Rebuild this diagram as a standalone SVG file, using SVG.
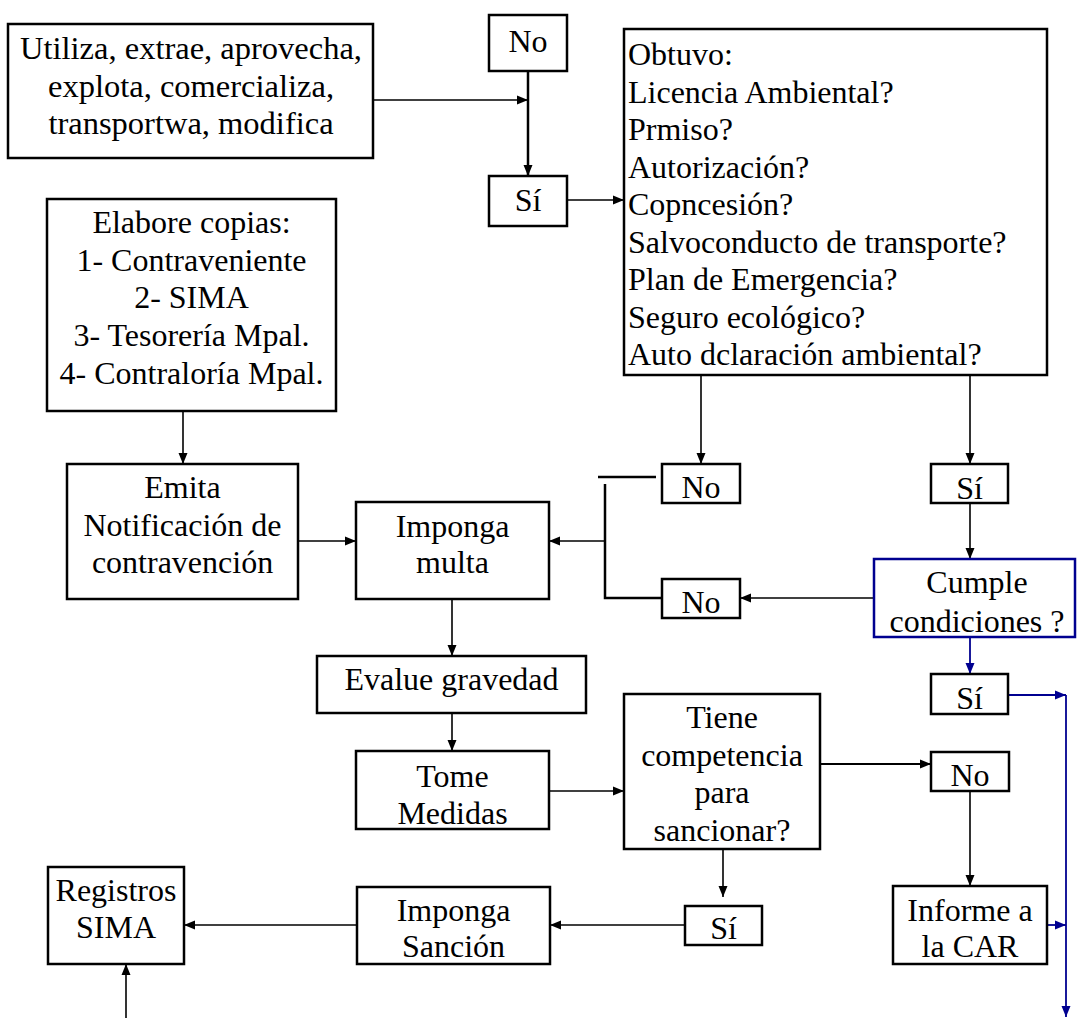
<svg xmlns="http://www.w3.org/2000/svg" width="1077" height="1018" viewBox="0 0 1077 1018">
<style>
.b{fill:#fff;stroke:#000;stroke-width:2.5}
.bb{fill:#fff;stroke:#000090;stroke-width:2.5}
text{font-family:"Liberation Serif","Times New Roman",serif;font-size:32px;fill:#000}
.c{text-anchor:middle}
.k{fill:none;stroke:#000;stroke-width:1.6}
.kb{fill:none;stroke:#000090;stroke-width:1.8}
</style>
<defs>
<marker id="a" markerUnits="userSpaceOnUse" markerWidth="12" markerHeight="10" refX="11" refY="5" orient="auto-start-reverse"><path d="M0,0.5 L11,5 L0,9.5 Z" fill="#000"/></marker>
<marker id="ab" markerUnits="userSpaceOnUse" markerWidth="12" markerHeight="10" refX="11" refY="5" orient="auto-start-reverse"><path d="M0,0.5 L11,5 L0,9.5 Z" fill="#000090"/></marker>
</defs>
<rect width="1077" height="1018" fill="#fff"/>
<g id="connectors">
<line class="k" x1="373" y1="100" x2="528" y2="100" marker-end="url(#a)"/>
<line class="k" style="stroke-width:2.5" x1="528" y1="47" x2="528" y2="176" marker-start="url(#a)" marker-end="url(#a)"/>
<line class="k" x1="567" y1="200" x2="624" y2="200" marker-end="url(#a)"/>
<line class="k" x1="701" y1="362" x2="701" y2="464" marker-end="url(#a)"/>
<line class="k" x1="970" y1="362" x2="970" y2="464" marker-end="url(#a)"/>
<line class="k" x1="970" y1="503" x2="970" y2="559" marker-end="url(#a)"/>
<line class="k" style="stroke-width:2.5" x1="598" y1="477" x2="656" y2="477"/>
<path class="k" style="stroke-width:2.5" d="M662,598 H605 V484"/>
<line class="k" x1="605" y1="541" x2="549" y2="541" marker-end="url(#a)"/>
<line class="k" x1="874" y1="598" x2="740" y2="598" marker-end="url(#a)"/>
<line class="k" x1="183" y1="411" x2="183" y2="464" marker-end="url(#a)"/>
<line class="k" x1="298" y1="541" x2="356" y2="541" marker-end="url(#a)"/>
<line class="k" x1="452" y1="599" x2="452" y2="656" marker-end="url(#a)"/>
<line class="k" x1="452" y1="713" x2="452" y2="751" marker-end="url(#a)"/>
<line class="k" x1="549" y1="791" x2="624" y2="791" marker-end="url(#a)"/>
<line class="k" style="stroke-width:2.2" x1="820" y1="764" x2="931" y2="764" marker-end="url(#a)"/>
<line class="k" x1="723" y1="838" x2="723" y2="897" marker-end="url(#a)"/>
<line class="k" x1="970" y1="791" x2="970" y2="886" marker-end="url(#a)"/>
<line class="k" x1="685" y1="925" x2="550" y2="925" marker-end="url(#a)"/>
<line class="k" x1="357" y1="925" x2="184" y2="925" marker-end="url(#a)"/>
<line class="k" x1="126" y1="1018" x2="126" y2="964" marker-end="url(#a)"/>
<line class="kb" x1="970" y1="637" x2="970" y2="674" marker-end="url(#ab)"/>
<line class="kb" x1="1008" y1="695" x2="1066" y2="695" marker-end="url(#ab)"/>
<line class="kb" x1="1066" y1="695" x2="1066" y2="1017" marker-end="url(#ab)"/>
<line class="kb" x1="1047" y1="925" x2="1066" y2="925" marker-end="url(#ab)"/>
</g>
<g id="n-utiliza"><rect class="b" x="8" y="24" width="365" height="134"/>
<text class="c" x="191" y="59" style="font-size:32.5px">Utiliza, extrae, aprovecha,</text>
<text class="c" x="191" y="96.5" style="font-size:32.5px">explota, comercializa,</text>
<text class="c" x="191" y="134" style="font-size:32.5px">transportwa, modifica</text></g>
<g id="n-no1"><rect class="b" x="489" y="15" width="78" height="56"/><text class="c" x="528" y="52">No</text></g>
<g id="n-si1"><rect class="b" x="489" y="176" width="78" height="50"/><text class="c" x="528" y="211">Sí</text></g>
<g id="n-obtuvo"><rect class="b" x="624" y="29" width="423" height="346"/>
<text x="628" y="65">Obtuvo:</text>
<text x="628" y="102.5">Licencia Ambiental?</text>
<text x="628" y="140">Prmiso?</text>
<text x="628" y="177.5">Autorización?</text>
<text x="628" y="215">Copncesión?</text>
<text x="628" y="252.5">Salvoconducto de transporte?</text>
<text x="628" y="290">Plan de Emergencia?</text>
<text x="628" y="327.5">Seguro ecológico?</text>
<text x="628" y="365">Auto dclaración ambiental?</text></g>
<g id="n-elabore"><rect class="b" x="47" y="199" width="289" height="212"/>
<text class="c" x="191.5" y="233">Elabore copias:</text>
<text class="c" x="191.5" y="271">1- Contraveniente</text>
<text class="c" x="191.5" y="308">2- SIMA</text>
<text class="c" x="191.5" y="346">3- Tesorería Mpal.</text>
<text class="c" x="191.5" y="384">4- Contraloría Mpal.</text></g>
<g id="n-emita"><rect class="b" x="67" y="464" width="231" height="135"/>
<text class="c" x="182.5" y="498">Emita</text>
<text class="c" x="182.5" y="536">Notificación de</text>
<text class="c" x="182.5" y="573">contravención</text></g>
<g id="n-multa"><rect class="b" x="356" y="502" width="193" height="97"/>
<text class="c" x="452.5" y="537">Imponga</text>
<text class="c" x="452.5" y="573">multa</text></g>
<g id="n-no2"><rect class="b" x="662" y="464" width="78" height="39"/><text class="c" x="701" y="498">No</text></g>
<g id="n-si2"><rect class="b" x="931" y="464" width="77" height="39"/><text class="c" x="969.5" y="499">Sí</text></g>
<g id="n-cumple"><rect class="bb" x="874" y="559" width="201" height="78"/>
<text class="c" x="977" y="593">Cumple</text>
<text class="c" x="977" y="632">condiciones ?</text></g>
<g id="n-no3"><rect class="b" x="662" y="579" width="78" height="39"/><text class="c" x="701" y="613">No</text></g>
<g id="n-si3"><rect class="b" x="931" y="674" width="77" height="40"/><text class="c" x="969.5" y="709">Sí</text></g>
<g id="n-evalue"><rect class="b" x="317" y="656" width="269" height="57"/><text class="c" x="451.5" y="690">Evalue gravedad</text></g>
<g id="n-tome"><rect class="b" x="356" y="751" width="193" height="78"/>
<text class="c" x="452.5" y="787">Tome</text>
<text class="c" x="452.5" y="824">Medidas</text></g>
<g id="n-tiene"><rect class="b" x="624" y="694" width="196" height="155"/>
<text class="c" x="722" y="728">Tiene</text>
<text class="c" x="722" y="765.5">competencia</text>
<text class="c" x="722" y="803">para</text>
<text class="c" x="722" y="840.5">sancionar?</text></g>
<g id="n-no4"><rect class="b" x="931" y="752" width="78" height="39"/><text class="c" x="970" y="786">No</text></g>
<g id="n-informe"><rect class="b" x="893" y="886" width="154" height="78"/>
<text class="c" x="970" y="921">Informe a</text>
<text class="c" x="970" y="957">la CAR</text></g>
<g id="n-si4"><rect class="b" x="685" y="906" width="77" height="39"/><text class="c" x="723.5" y="939">Sí</text></g>
<g id="n-sancion"><rect class="b" x="357" y="887" width="193" height="77"/>
<text class="c" x="453.5" y="921">Imponga</text>
<text class="c" x="453.5" y="957">Sanción</text></g>
<g id="n-registros"><rect class="b" x="48" y="867" width="136" height="97"/>
<text class="c" x="116" y="901">Registros</text>
<text class="c" x="116" y="938">SIMA</text></g>
</svg>
